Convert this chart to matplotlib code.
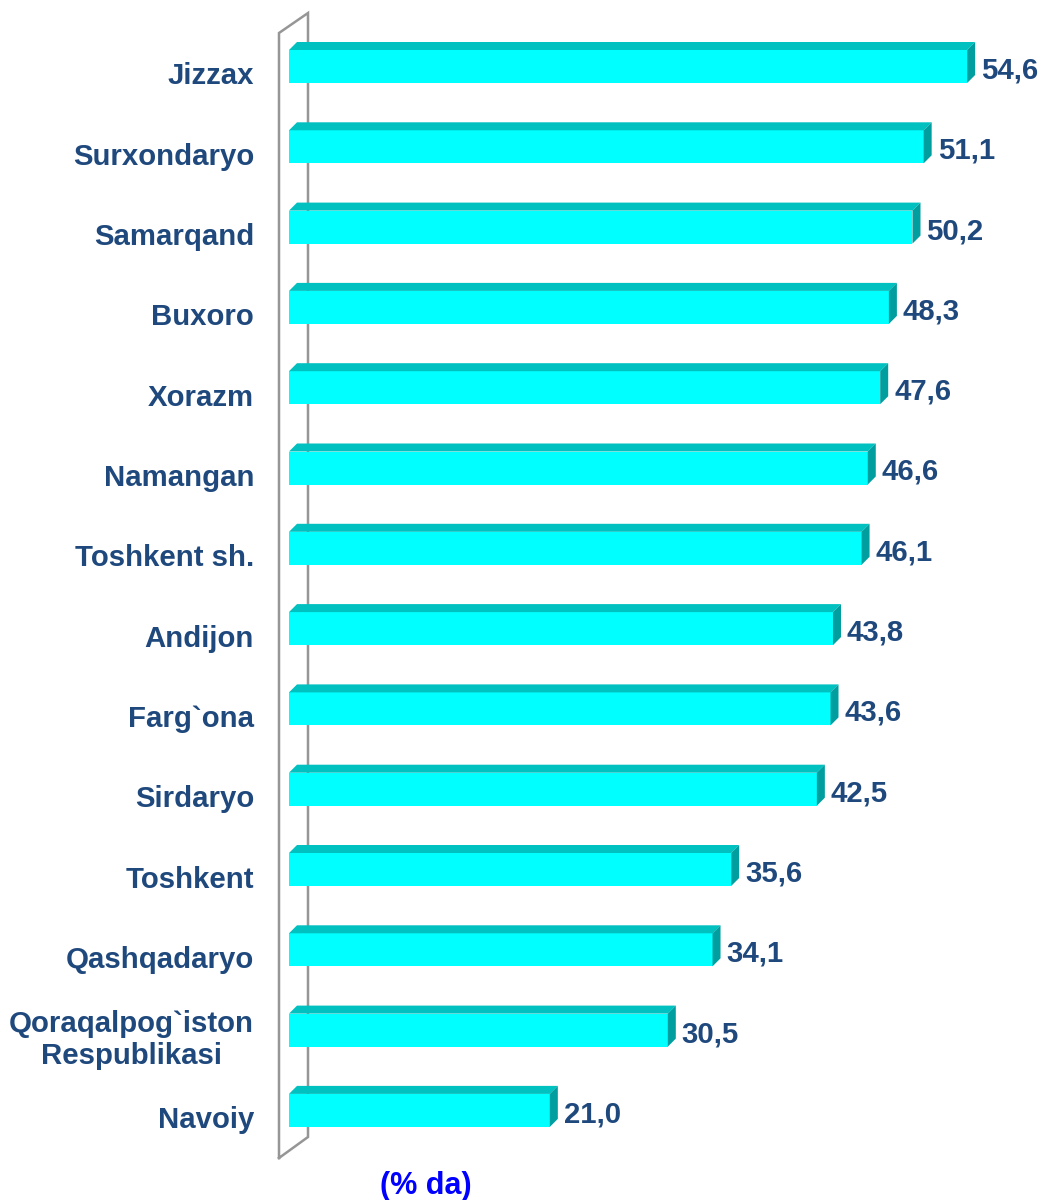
import matplotlib
matplotlib.use("Agg")
import matplotlib.pyplot as plt
from matplotlib.patches import Polygon

categories = ["Jizzax", "Surxondaryo", "Samarqand", "Buxoro", "Xorazm", "Namangan",
              "Toshkent sh.", "Andijon", "Farg`ona", "Sirdaryo", "Toshkent",
              "Qashqadaryo", "Qoraqalpog`iston\nRespublikasi", "Navoiy"]
values = [54.6, 51.1, 50.2, 48.3, 47.6, 46.6, 46.1, 43.8, 43.6, 42.5, 35.6, 34.1, 30.5, 21.0]
value_labels = ["54,6", "51,1", "50,2", "48,3", "47,6", "46,6", "46,1", "43,8", "43,6",
                "42,5", "35,6", "34,1", "30,5", "21,0"]
unit_label = "(% da)"

plt.rcParams['font.family'] = ['Liberation Sans', 'DejaVu Sans']

W, H = 1042, 1200
fig = plt.figure(figsize=(W / 100, H / 100), dpi=100)

# pixel geometry
x0_px = 289.0
px_per_unit = 12.42
row0_px = 66.5
row_px = 80.3
xmax = 60
ax_w_px = xmax * px_per_unit
ax = fig.add_axes([x0_px / W, 0, ax_w_px / W, 1])
ax.set_xlim(0, xmax)
ax.set_ylim((H - row0_px) / row_px, -row0_px / row_px)
ax.axis('off')

bar_h = 33 / row_px
dx = 8 / px_per_unit
dy = 8 / row_px

label_color = '#1F497D'
front_c = '#00FFFF'
top_c = '#00C0C0'
side_c = '#009E9E'
fs = 21.2


def px2x(p):
    return (p - x0_px) / px_per_unit


def py2y(p):
    return (p - row0_px) / row_px


# wall (gray parallelogram)
wall_x = [px2x(279), px2x(279), px2x(308), px2x(308), px2x(279)]
wall_y = [py2y(1158), py2y(33), py2y(13), py2y(1137), py2y(1158)]
ax.plot(wall_x, wall_y, color='#969696', lw=1.8, clip_on=False, zorder=1,
        solid_joinstyle='miter')

ypos = list(range(len(values)))
ax.barh(ypos, values, height=bar_h, color=front_c, zorder=3, linewidth=0)
for y, v, lab in zip(ypos, values, value_labels):
    top = y - bar_h / 2
    bot = y + bar_h / 2
    ax.add_patch(Polygon([(0, top), (dx, top - dy), (v + dx, top - dy), (v, top)],
                         closed=True, facecolor=top_c, edgecolor='none', zorder=3))
    ax.add_patch(Polygon([(v, top), (v + dx, top - dy), (v + dx, bot - dy), (v, bot)],
                         closed=True, facecolor=side_c, edgecolor='none', zorder=3))
    ax.annotate(lab, xy=(v, y), xytext=(14 * 0.72, -4 * 0.72), textcoords='offset points',
                ha='left', va='center', fontsize=fs, fontweight='bold',
                color=label_color, annotation_clip=False)

for y, c in zip(ypos, categories):
    yy = y + 10 / row_px
    ax.text(px2x(254), yy, c, ha='right', va='center', ma='center', fontsize=fs,
            fontweight='bold', color=label_color, clip_on=False, linespacing=1.15)

fig.text(426 / W, 1 - 1186 / H, unit_label, ha='center', va='center', fontsize=22,
         fontweight='bold', color='#0000FF')

fig.savefig('out.png', dpi=100, facecolor='white')
